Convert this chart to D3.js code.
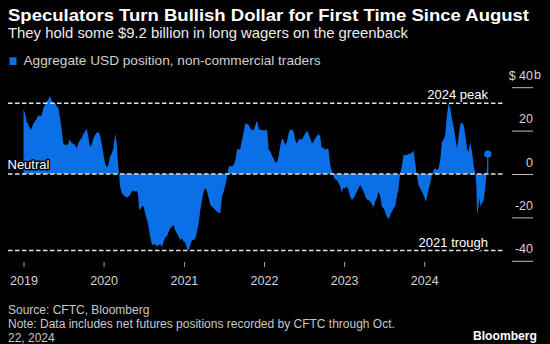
<!DOCTYPE html>
<html><head><meta charset="utf-8">
<script src="https://cdn.jsdelivr.net/npm/d3@7"></script>
<style>
body{margin:0;background:#000}
svg{display:block}
text{font-family:"Liberation Sans",Arial,sans-serif}
</style>
</head><body>
<svg id="c" width="550" height="344"></svg>
<script>
// Decimal-year dates of each reading
const years = [
2019.000,2019.019,2019.040,2019.073,2019.094,2019.123,2019.156,2019.185,2019.206,2019.227,
2019.248,2019.268,2019.289,2019.310,2019.331,2019.352,2019.372,2019.393,2019.414,2019.435,
2019.456,2019.476,2019.497,2019.518,2019.539,2019.560,2019.572,2019.589,2019.614,2019.643,
2019.664,2019.684,2019.705,2019.726,2019.747,2019.768,2019.789,2019.809,2019.830,2019.851,
2019.872,2019.893,2019.913,2019.934,2019.955,2019.976,2019.997,2020.018,2020.039,2020.059,
2020.080,2020.101,2020.122,2020.143,2020.164,2020.176,2020.193,2020.205,2020.226,2020.247,
2020.268,2020.288,2020.309,2020.330,2020.351,2020.372,2020.393,2020.413,2020.426,2020.442,
2020.455,2020.476,2020.497,2020.518,2020.538,2020.559,2020.580,2020.601,2020.622,2020.643,
2020.664,2020.684,2020.705,2020.726,2020.747,2020.768,2020.789,2020.809,2020.830,2020.851,
2020.872,2020.893,2020.913,2020.934,2020.955,2020.976,2020.997,2021.018,2021.038,2021.059,
2021.080,2021.101,2021.122,2021.143,2021.164,2021.184,2021.205,2021.226,2021.247,2021.268,
2021.289,2021.310,2021.330,2021.351,2021.372,2021.393,2021.414,2021.435,2021.455,2021.476,
2021.497,2021.518,2021.539,2021.560,2021.580,2021.601,2021.622,2021.643,2021.664,2021.684,
2021.705,2021.726,2021.747,2021.768,2021.789,2021.809,2021.830,2021.851,2021.872,2021.893,
2021.913,2021.934,2021.955,2021.976,2021.997,2022.018,2022.039,2022.059,2022.080,2022.098,
2022.119,2022.140,2022.161,2022.181,2022.202,2022.223,2022.244,2022.265,2022.286,2022.306,
2022.327,2022.348,2022.369,2022.390,2022.410,2022.431,2022.452,2022.473,2022.493,2022.514,
2022.535,2022.556,2022.577,2022.598,2022.618,2022.639,2022.660,2022.681,2022.702,2022.722,
2022.743,2022.764,2022.785,2022.806,2022.818,2022.835,2022.860,2022.868,2022.889,2022.910,
2022.931,2022.951,2022.972,2022.985,2023.014,2023.035,2023.055,2023.076,2023.097,2023.118,
2023.139,2023.159,2023.180,2023.201,2023.222,2023.243,2023.263,2023.284,2023.305,2023.326,
2023.347,2023.367,2023.388,2023.409,2023.430,2023.451,2023.471,2023.492,2023.513,2023.534,
2023.555,2023.576,2023.596,2023.617,2023.638,2023.659,2023.680,2023.700,2023.721,2023.742,
2023.763,2023.784,2023.804,2023.825,2023.846,2023.867,2023.888,2023.908,2023.929,2023.950,
2023.971,2023.992,2024.013,2024.025,2024.042,2024.054,2024.075,2024.096,2024.117,2024.137,
2024.158,2024.179,2024.200,2024.221,2024.241,2024.262,2024.283,2024.304,2024.325,2024.345,
2024.366,2024.387,2024.408,2024.429,2024.450,2024.470,2024.491,2024.512,2024.533,2024.554,
2024.574,2024.595,2024.616,2024.637,2024.650,2024.658,2024.666,2024.679,2024.691,2024.700,
2024.720,2024.741,2024.762,2024.775,2024.792
];
// Aggregate USD position, $ billions
const usd = [
29.8,28.0,24.1,21.8,20.3,23.3,24.9,27.2,26.4,27.2,
30.3,31.8,33.3,34.4,35.9,33.8,32.6,32.9,31.3,30.3,
25.7,21.0,14.1,13.4,13.4,14.1,16.0,14.9,14.1,13.4,
11.8,14.1,15.7,16.4,18.4,19.5,21.0,17.2,12.6,13.4,
16.4,17.8,19.0,19.5,17.8,14.1,9.5,4.9,3.1,4.1,
8.0,9.5,11.8,18.4,14.1,6.5,0.0,-5.8,-8.6,-9.7,
-10.4,-10.8,-10.4,-9.7,-8.1,-7.7,-8.1,-7.7,-8.9,-15.8,
-16.6,-15.0,-14.7,-18.1,-20.9,-24.3,-28.9,-32.4,-32.7,-32.3,
-33.5,-32.7,-32.4,-33.8,-31.2,-28.9,-28.9,-26.6,-25.0,-24.3,
-23.5,-26.1,-27.3,-28.9,-30.4,-29.6,-31.2,-31.6,-34.3,-35.3,
-32.7,-30.4,-30.4,-29.7,-26.6,-22.7,-16.6,-12.0,-8.1,-6.3,
-8.1,-11.2,-14.3,-15.0,-15.8,-16.6,-17.4,-17.8,-18.1,-10.4,
-8.1,-5.1,-1.2,3.4,3.7,3.4,4.1,6.5,11.8,11.1,
11.8,15.7,19.5,23.3,23.0,22.6,21.0,20.3,20.3,22.6,
24.6,21.0,20.3,20.3,20.0,20.3,20.3,11.1,10.5,8.8,
7.2,5.7,5.2,8.0,12.6,16.4,15.7,13.4,14.9,18.7,
20.3,20.6,19.5,15.7,14.1,15.7,16.4,15.7,17.2,18.7,
20.0,18.7,16.4,14.1,14.9,16.4,17.5,18.4,17.2,11.8,
12.3,11.1,11.8,11.4,6.5,2.6,0.0,-1.2,-2.5,-2.8,
-4.3,-5.8,-8.9,-6.6,-6.6,-5.8,-7.4,-10.4,-12.0,-11.2,
-9.7,-8.1,-6.6,-5.1,-6.6,-8.1,-10.1,-11.7,-12.0,-12.7,
-13.8,-15.4,-12.7,-11.2,-8.1,-10.4,-15.0,-15.8,-17.4,-19.7,
-20.9,-18.9,-17.4,-15.8,-15.0,-10.4,-6.6,0.3,3.4,8.8,
8.8,8.8,9.2,9.5,9.8,10.8,4.9,-0.5,-5.1,-6.6,
-8.1,-9.7,-12.0,-12.7,-8.9,-7.4,-4.3,-0.5,1.8,2.6,
1.8,2.6,6.5,14.9,15.7,18.0,27.2,32.6,30.3,25.7,
21.8,17.2,11.8,17.2,23.3,23.5,22.6,18.0,11.8,10.3,
14.9,10.3,4.1,0.0,-5.8,-18.1,-17.8,-13.5,-11.2,-15.0,
-13.5,-12.0,-5.8,-0.5,9.2
];
const yTicks = [-40, -20, 0, 20, 40];
const xTickYears = [2019, 2020, 2021, 2022, 2023, 2024];
const refValues = [32.6, 0, -35.3];
const refLabels = ["2024 peak", "Neutral", "2021 trough"];

const title = "Speculators Turn Bullish Dollar for First Time Since August";
const subtitle = "They hold some $9.2 billion in long wagers on the greenback";
const legendLabel = "Aggregate USD position, non-commercial traders";
const footLines = ["Source: CFTC, Bloomberg",
  "Note: Data includes net futures positions recorded by CFTC through Oct.",
  "22, 2024"];

const BLUE = "#0b6fe6";

function toDate(d){
  const yr = Math.floor(d);
  const s = new Date(yr,0,1), e = new Date(yr+1,0,1);
  return new Date(+s + (d-yr)*(e-s));
}
const data = years.map((t,i)=>({date:toDate(t), v:usd[i]}));

const svg = d3.select("#c");
svg.append("rect").attr("width",550).attr("height",344).attr("fill","#000");

const x = d3.scaleTime().domain([new Date(2019,0,1), new Date(2025,0,1)]).range([23.5, 504.5]);
const y = d3.scaleLinear().domain([-40,40]).range([260.8, 87.2]);

// Title block
svg.append("text").attr("x",8).attr("y",20.5).attr("fill","#fff")
  .attr("font-size",17).attr("font-weight","bold")
  .attr("textLength",521).attr("lengthAdjust","spacingAndGlyphs").text(title);
svg.append("text").attr("x",8).attr("y",38).attr("fill","#ececec")
  .attr("font-size",14.5).attr("textLength",400).attr("lengthAdjust","spacingAndGlyphs").text(subtitle);
svg.append("rect").attr("x",9.5).attr("y",57.3).attr("width",7).attr("height",7.7).attr("fill",BLUE);
svg.append("text").attr("x",23.5).attr("y",65.3).attr("fill","#cfcfcf")
  .attr("font-size",13).attr("textLength",297).attr("lengthAdjust","spacingAndGlyphs").text(legendLabel);

// Area
const area = d3.area().x(d=>x(d.date)).y0(y(0)).y1(d=>y(d.v));
svg.append("path").datum(data).attr("d",area).attr("fill",BLUE);

// last value stem + dot
const last = data[data.length-1];
svg.append("line").attr("x1",x(last.date)).attr("x2",x(last.date))
  .attr("y1",y(0)).attr("y2",y(last.v)).attr("stroke",BLUE).attr("stroke-width",1);
svg.append("circle").attr("cx",x(last.date)).attr("cy",y(last.v)).attr("r",3.6).attr("fill",BLUE);

// Reference dashed lines
svg.append("g").selectAll("line").data(refValues).join("line")
  .attr("x1",8).attr("x2",504).attr("y1",d=>y(d)).attr("y2",d=>y(d))
  .attr("stroke","#e4e4e4").attr("stroke-width",1.5).attr("stroke-dasharray","4.5,2.5");

// Reference labels
const lab = svg.append("g").attr("font-size",13).attr("fill","#fff")
  .attr("stroke","#000").attr("stroke-width",3).attr("paint-order","stroke").attr("stroke-linejoin","round");
lab.append("text").attr("x",488).attr("y",y(refValues[0])-4).attr("text-anchor","end").text(refLabels[0]);
lab.append("text").attr("x",7.5).attr("y",y(refValues[1])-4.7).attr("text-anchor","start").text(refLabels[1]);
lab.append("text").attr("x",488).attr("y",y(refValues[2])-4).attr("text-anchor","end").text(refLabels[2]);

// Right axis
const ya = svg.append("g").attr("transform","translate(512,0)")
  .call(d3.axisRight(y).tickValues(yTicks).tickSize(21)
    .tickFormat(d => d===40 ? "$ 40" : (d<0 ? "-"+Math.abs(d) : String(d))));
ya.select(".domain").remove();
ya.selectAll(".tick line").attr("stroke","#bdbdbd");
ya.selectAll(".tick text").attr("x",21).attr("y",-8).attr("dy",0)
  .attr("text-anchor","end").attr("fill","#d4d4d4").attr("font-size",12.5)
  .attr("font-family","'Liberation Sans',Arial,sans-serif");
svg.append("text").attr("x",534).attr("y",y(40)-8).attr("fill","#d4d4d4")
  .attr("font-size",12.5).text("b");

// Bottom axis
const xa = svg.append("g").attr("transform","translate(0,262)")
  .call(d3.axisBottom(x).tickValues(xTickYears.map(v=>new Date(v,0,1))).tickSize(5)
    .tickFormat(d3.timeFormat("%Y")));
xa.select(".domain").remove();
xa.selectAll(".tick line").attr("stroke","#a0a0a0");
xa.selectAll(".tick text").attr("y",23).attr("dy",0).attr("fill","#d4d4d4")
  .attr("font-size",12.5).attr("font-family","'Liberation Sans',Arial,sans-serif");

// Footer
svg.append("g").selectAll("text").data(footLines).join("text")
  .attr("x",8).attr("y",(d,i)=>314.2+i*14.1).attr("fill","#c8c8c8").attr("font-size",12)
  .text(d=>d);
svg.append("text").attr("x",537).attr("y",339.5).attr("text-anchor","end")
  .attr("fill","#fff").attr("font-size",12.5).attr("font-weight","bold")
  .attr("textLength",64).attr("lengthAdjust","spacingAndGlyphs").text("Bloomberg");
</script>
</body></html>
